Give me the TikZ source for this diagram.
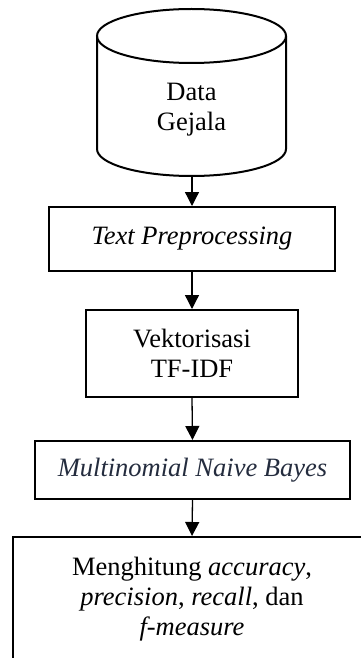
\documentclass[tikz,border=0pt]{standalone}
\usepackage{fontspec}
\setmainfont{Liberation Serif}
\usetikzlibrary{arrows.meta}
\definecolor{slateink}{RGB}{36,44,62}
\begin{document}
\begin{tikzpicture}[x=1pt,y=1pt,
  every node/.style={font=\fontsize{26.5}{30}\selectfont},
  stepbox/.style={draw, line width=2pt, rectangle, align=center, inner sep=0pt},
  flow/.style={line width=1.3pt, -{Triangle[width=14pt,length=14pt]}}]
  \useasboundingbox (0,0) rectangle (361,-658);
  \clip (0,0) rectangle (361,-658);

  % data store drawn as a cylinder
  \draw[line width=2pt, fill=white]
    (97,-36) -- (97,-149) arc[start angle=180, end angle=360, x radius=94.5, y radius=27]
    -- (286,-36);
  \draw[line width=2pt] (191.5,-36) ellipse[x radius=94.5, y radius=27];
  \node[align=center] (data) at (191.5,-109.5) {Data\\Gejala};
  \coordinate (databot) at (192,-176);

  % processing steps
  \node[stepbox, minimum width=286pt, minimum height=64pt] (prep) at (192,-239)
    {\textit{Text Preprocessing}};
  \node[stepbox, minimum width=212pt, minimum height=87pt] (vekt) at (192,-353.5)
    {Vektorisasi\\TF-IDF};
  \node[stepbox, minimum width=315pt, minimum height=58pt] (mnb) at (192.5,-470)
    {\textcolor{slateink}{\textit{Multinomial Naive Bayes}}};
  \node[stepbox, minimum width=358pt, minimum height=124pt] (eval) at (192,-599)
    {Menghitung \textit{accuracy},\\\textit{precision}, \textit{recall}, dan\\\textit{f-measure}};

  % connectors
  \draw[flow] (databot) -- (prep.north);
  \draw[flow] (prep.south) -- (vekt.north);
  \draw[flow] (vekt.south) -- (mnb.north);
  \draw[flow] (mnb.south) -- (eval.north);
\end{tikzpicture}
\end{document}
